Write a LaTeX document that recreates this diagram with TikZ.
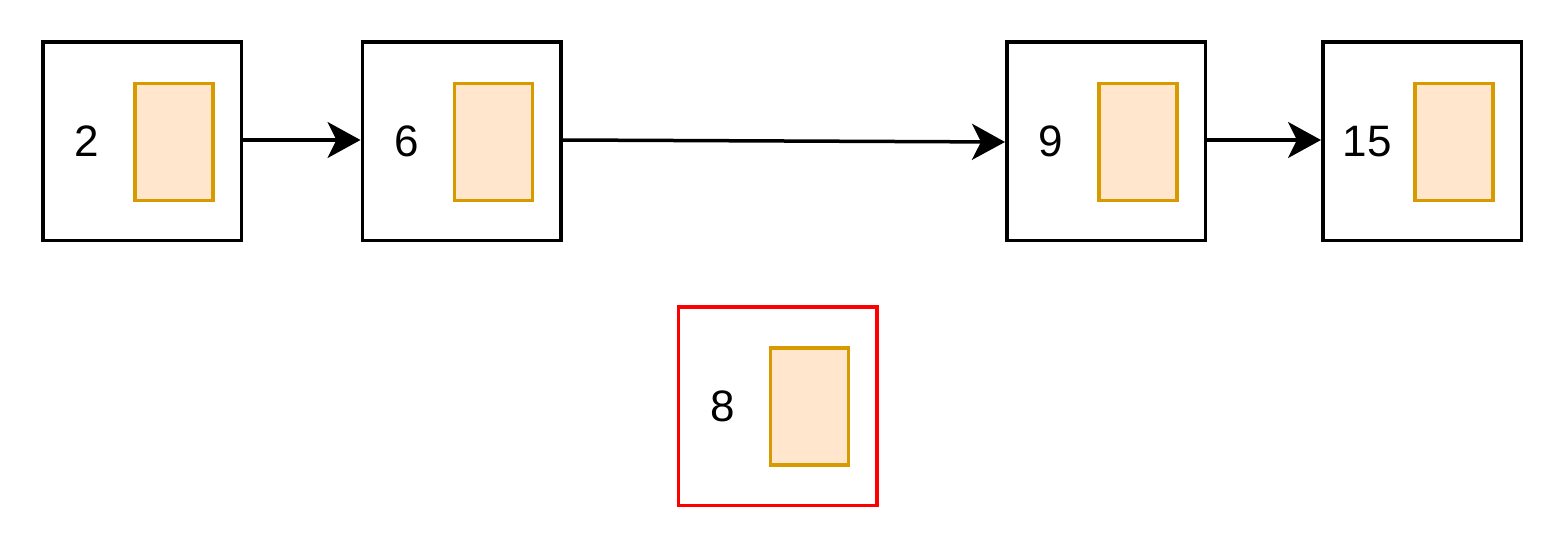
\documentclass[tikz,border=0pt]{standalone}
\usepackage{fontspec}
\setmainfont{Liberation Sans}
\usetikzlibrary{arrows.meta,calc}
\definecolor{cellfill}{HTML}{FFE6CC}
\definecolor{celldraw}{HTML}{D79B00}
\definecolor{hired}{HTML}{FF0000}
\tikzset{
  outerbox/.style={draw=black,line width=3.5pt,minimum width=198.5pt,minimum height=198.5pt,inner sep=0pt},
  redbox/.style={outerbox,draw=hired},
  cell/.style={draw=celldraw,fill=cellfill,line width=3.5pt,minimum width=78pt,minimum height=117pt,inner sep=0pt},
  numtext/.style={font=\fontsize{44}{48}\selectfont,inner sep=0pt},
  link/.style={line width=3.5pt,-{Stealth[length=33pt,width=36pt,inset=9pt]}}
}
\begin{document}
\begin{tikzpicture}[x=1pt,y=-1pt]
\useasboundingbox (0,0) rectangle (1564,548);
\node[outerbox] (b1) at (142,141.5) {};
\node[outerbox] (b2) at (461.5,141.5) {};
\node[outerbox] (b3) at (1106,141.5) {};
\node[outerbox] (b4) at (1422,141.5) {};
\node[redbox] (b5) at (777.5,406) {};
\foreach \b/\t in {b1/2,b2/6,b3/9,b4/15,b5/8}{
  \node[cell] (\b c) at ($(\b)+(32,0.5)$) {};
  \node[numtext] (\b t) at ($(\b)+(-55,0)$) {\t};
}
\draw[link] ($(b1.east)+(0,-1.5)$) -- ($(b2.west)+(0,-1.5)$);
\draw[link] ($(b2.east)+(0,-1.5)$) -- ($(b3.west)+(0,0.5)$);
\draw[link] ($(b3.east)+(0,-1.5)$) -- ($(b4.west)+(0,-1.5)$);
\end{tikzpicture}
\end{document}
